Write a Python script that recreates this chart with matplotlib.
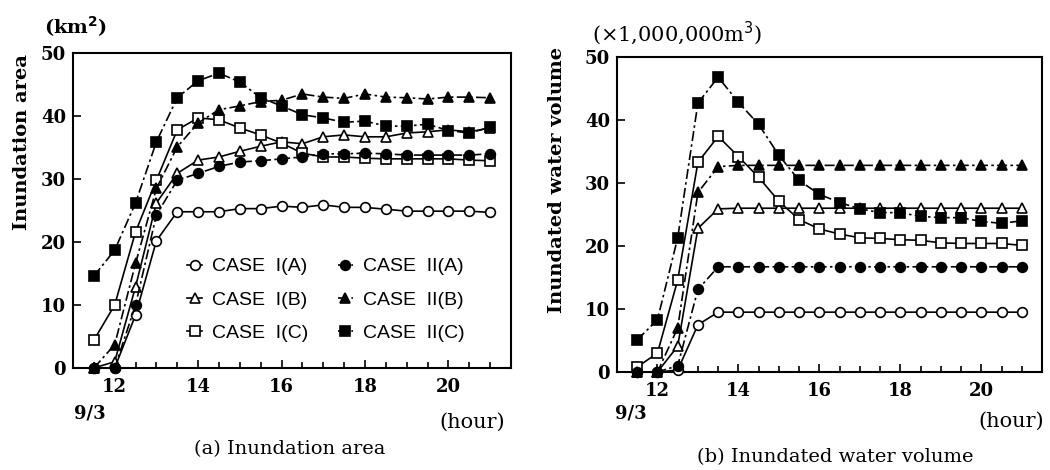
import matplotlib
matplotlib.use('Agg')
import matplotlib.pyplot as plt
from matplotlib.ticker import MultipleLocator

plt.rcParams['font.family'] = ['DejaVu Serif']

# hours on 9/3
hours = [11.5, 12, 12.5, 13, 13.5, 14, 14.5, 15, 15.5, 16,
         16.5, 17, 17.5, 18, 18.5, 19, 19.5, 20, 20.5, 21]

# (a) inundation area, km2
area_1a = [0, 0, 8.4, 20.2, 24.8, 24.8, 24.8, 25.3, 25.3, 25.7,
           25.5, 25.9, 25.5, 25.5, 25.2, 24.9, 24.9, 24.9, 24.9, 24.7]
area_1b = [0, 1.0, 12.9, 26.2, 30.9, 33.0, 33.5, 34.4, 35.2, 35.9,
           35.6, 36.7, 37.0, 36.7, 36.7, 37.3, 37.5, 37.8, 37.5, 38.1]
area_1c = [4.4, 10.0, 21.6, 29.8, 37.8, 39.7, 39.4, 38.1, 37.0, 35.7,
           34.1, 33.5, 33.5, 33.3, 33.2, 33.2, 33.2, 33.2, 33.0, 32.9]
area_2a = [0, 0, 10.0, 24.3, 29.8, 30.9, 32.0, 32.7, 32.9, 33.2,
           33.5, 34.0, 34.0, 34.1, 34.0, 33.8, 33.8, 33.8, 33.8, 34.0]
area_2b = [0, 3.7, 16.6, 28.5, 35.1, 38.9, 41.0, 41.6, 42.3, 42.5,
           43.5, 43.0, 42.8, 43.5, 43.0, 42.9, 42.7, 43.0, 43.0, 42.9]
area_2c = [14.6, 18.7, 26.2, 35.9, 42.9, 45.6, 46.8, 45.4, 42.9, 41.6,
           40.2, 39.7, 39.0, 39.2, 38.4, 38.4, 38.7, 37.7, 37.3, 38.2]

# (b) inundated water volume, million m3
vol_1a = [0, 0, 0.3, 7.5, 9.5, 9.5, 9.5, 9.5, 9.5, 9.5,
          9.5, 9.5, 9.5, 9.5, 9.5, 9.5, 9.5, 9.5, 9.5, 9.5]
vol_1b = [0, 0, 4.1, 22.8, 25.9, 26.0, 26.0, 26.0, 26.0, 26.0,
          26.0, 26.0, 26.0, 26.0, 26.0, 26.0, 26.0, 26.0, 26.0, 26.0]
vol_1c = [0.8, 3.0, 14.6, 33.3, 37.4, 34.2, 30.9, 27.1, 24.2, 22.7,
          21.9, 21.3, 21.2, 21.0, 20.9, 20.5, 20.4, 20.4, 20.4, 20.1]
vol_2a = [0, 0, 1.0, 13.1, 16.7, 16.7, 16.7, 16.7, 16.7, 16.7,
          16.7, 16.7, 16.7, 16.7, 16.7, 16.7, 16.7, 16.7, 16.7, 16.7]
vol_2b = [0, 0, 7.0, 28.5, 32.6, 32.8, 32.8, 32.8, 32.8, 32.8,
          32.8, 32.8, 32.8, 32.8, 32.8, 32.8, 32.8, 32.8, 32.8, 32.8]
vol_2c = [5.1, 8.3, 21.3, 42.7, 46.8, 42.8, 39.3, 34.4, 30.4, 28.2,
          26.9, 25.9, 25.3, 25.3, 24.7, 24.5, 24.5, 23.9, 23.6, 24.0]

case_labels = ['CASE  I(A)', 'CASE  I(B)', 'CASE  I(C)',
               'CASE  II(A)', 'CASE  II(B)', 'CASE  II(C)']

dashdot = (0, (6, 2, 1.5, 2))
styles = [
    dict(marker='o', mfc='white', ls='-'),
    dict(marker='^', mfc='white', ls='-'),
    dict(marker='s', mfc='white', ls='-'),
    dict(marker='o', mfc='black', ls=dashdot),
    dict(marker='^', mfc='black', ls=dashdot),
    dict(marker='s', mfc='black', ls=dashdot),
]


def draw_cases(ax, series):
    handles = []
    for vals, st in zip(series, styles):
        h, = ax.plot(hours, vals, color='black', lw=1.2, marker=st['marker'],
                     mfc=st['mfc'], mec='black', mew=1.2, ms=7, ls=st['ls'],
                     clip_on=False, zorder=3)
        handles.append(h)
    ax.set_xlim(11, 21.5)
    ax.set_ylim(0, 50)
    ax.xaxis.set_minor_locator(MultipleLocator(0.5))
    ax.set_xticks([12, 14, 16, 18, 20])
    ax.yaxis.set_major_locator(MultipleLocator(10))
    ax.tick_params(axis='both', which='both', direction='in', top=False, right=False)
    ax.tick_params(axis='both', which='major', length=6, width=1.2, labelsize=13, pad=5)
    ax.tick_params(axis='x', which='major', pad=7)
    ax.tick_params(axis='x', which='minor', length=4, width=1.2)
    for lab in ax.get_xticklabels() + ax.get_yticklabels():
        lab.set_fontweight('bold')
    for sp in ax.spines.values():
        sp.set_linewidth(1.5)
    return handles


fig = plt.figure(figsize=(10.5, 4.7), dpi=100)
ax_a = fig.add_axes([0.0695, 0.2170, 0.4171, 0.6702])
ax_b = fig.add_axes([0.5876, 0.2085, 0.4048, 0.6702])

handles = draw_cases(ax_a, [area_1a, area_1b, area_1c, area_2a, area_2b, area_2c])
draw_cases(ax_b, [vol_1a, vol_1b, vol_1c, vol_2a, vol_2b, vol_2c])

ax_a.legend(handles, case_labels, ncol=2, frameon=False, loc='upper left',
            bbox_to_anchor=(0.26, 0.35), borderaxespad=0, borderpad=0,
            handlelength=0.8, handletextpad=0.5, columnspacing=1.5,
            labelspacing=0.8,
            prop={'family': ['Liberation Sans'], 'size': 14})

# axis titles and units
ax_a.text(-0.116, 0.717, 'Inundation area', transform=ax_a.transAxes, rotation=90,
          ha='center', va='center', fontsize=14, fontweight='bold')
fig.text(75 / 1050, 1 - 27 / 470, '(km$^{\\mathbf{2}}$)', ha='center', va='center',
         fontsize=14, fontweight='bold')
fig.text(90 / 1050, 1 - 414 / 470, '9/3', ha='center', va='center',
         fontsize=13, fontweight='bold')
fig.text(472 / 1050, 1 - 422 / 470, '(hour)', ha='center', va='center', fontsize=15)
fig.text(290 / 1050, 1 - 449 / 470, '(a) Inundation area', ha='center', va='center',
         fontsize=14)

ax_b.text(-0.141, 0.61, 'Inundated water volume', transform=ax_b.transAxes,
          rotation=90, ha='center', va='center', fontsize=14, fontweight='bold')
fig.text(677 / 1050, 1 - 33 / 470, '(×1,000,000m$^3$)', ha='center', va='center',
         fontsize=15)
fig.text(631 / 1050, 1 - 413 / 470, '9/3', ha='center', va='center',
         fontsize=13, fontweight='bold')
fig.text(1011 / 1050, 1 - 421 / 470, '(hour)', ha='center', va='center', fontsize=15)
fig.text(835 / 1050, 1 - 457 / 470, '(b) Inundated water volume', ha='center',
         va='center', fontsize=14)

fig.savefig('out.png', dpi=100, facecolor='white')
